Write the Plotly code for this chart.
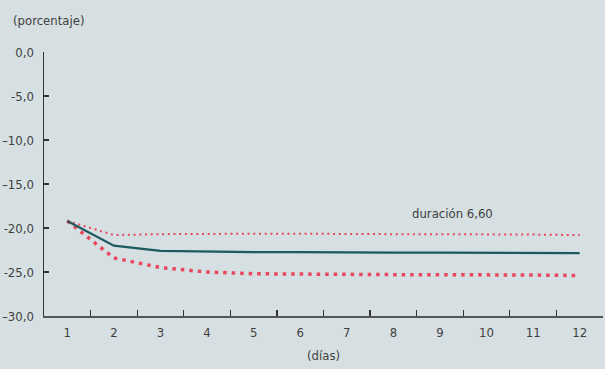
import plotly.graph_objects as go

dias = [str(i) for i in range(1, 13)]
central = [-19.2, -22.0, -22.6, -22.7, -22.75, -22.75, -22.8, -22.8, -22.8, -22.8, -22.85, -22.85]
superior = [-19.2, -20.8, -20.7, -20.65, -20.65, -20.65, -20.7, -20.7, -20.7, -20.7, -20.75, -20.8]
inferior = [-19.2, -23.4, -24.5, -25.0, -25.2, -25.25, -25.3, -25.3, -25.3, -25.3, -25.35, -25.4]
ytick_vals = [0, -5, -10, -15, -20, -25, -30]
ytick_text = ["0,0", "-5,0", "–10,0", "–15,0", "-20,0", "-25,0", "–30,0"]

FONT = "DejaVu Sans Condensed, Liberation Sans Narrow, sans-serif"
BG = "#d6dfe1"
RED = "#e8475c"
TEAL = "#1d5a5f"
TXT = "#3f3f3f"

fig = go.Figure()
fig.add_trace(go.Scatter(x=dias, y=superior, mode="lines", hoverinfo="skip",
                         line=dict(color=RED, width=2, dash="2px,3.7px")))
fig.add_trace(go.Scatter(x=dias, y=inferior, mode="lines", hoverinfo="skip",
                         line=dict(color=RED, width=3.5, dash="3.5px,5px")))
fig.add_trace(go.Scatter(x=dias, y=central, mode="lines", hoverinfo="skip",
                         line=dict(color=TEAL, width=2.2)))

fig.add_annotation(x=8.26, y=-18.3, text="duración 6,60", showarrow=False,
                   xref="x", yref="y", xanchor="center",
                   font=dict(family=FONT, size=13, color=TXT))
fig.add_annotation(x=0, y=1, xref="paper", yref="paper", xshift=-33, yshift=32,
                   text="(porcentaje)", showarrow=False, xanchor="left", yanchor="middle",
                   font=dict(family=FONT, size=13, color=TXT))
fig.add_annotation(x=0.5, y=0, xref="paper", yref="paper", yshift=-39,
                   text="(días)", showarrow=False, xanchor="center", yanchor="middle",
                   font=dict(family=FONT, size=13, color=TXT))

fig.update_layout(
    width=605, height=369,
    margin=dict(l=44, r=2, t=52, b=53),
    paper_bgcolor=BG, plot_bgcolor=BG,
    showlegend=False,
    font=dict(family=FONT, size=13, color=TXT),
)
fig.update_xaxes(type="category", range=[-0.5, 11.5], tickson="boundaries",
                 ticks="inside", ticklen=6, tickwidth=1.3, tickcolor="#333333",
                 showline=True, linecolor="#555555", linewidth=1.5,
                 showgrid=False, zeroline=False, ticklabelstandoff=4,
                 tickfont=dict(family=FONT, size=13, color=TXT))
fig.update_yaxes(range=[-30, 0], tickvals=ytick_vals, ticktext=ytick_text,
                 ticks="inside", ticklen=5, tickwidth=1.3, tickcolor="#333333",
                 showline=True, linecolor="#333333", linewidth=1.5,
                 showgrid=False, zeroline=False, ticklabelstandoff=6,
                 tickfont=dict(family=FONT, size=13, color=TXT))

fig.write_html("out.html", config={"displayModeBar": False, "staticPlot": True},
               post_script="document.body.style.margin='0';document.body.style.background='#d6dfe1';")
